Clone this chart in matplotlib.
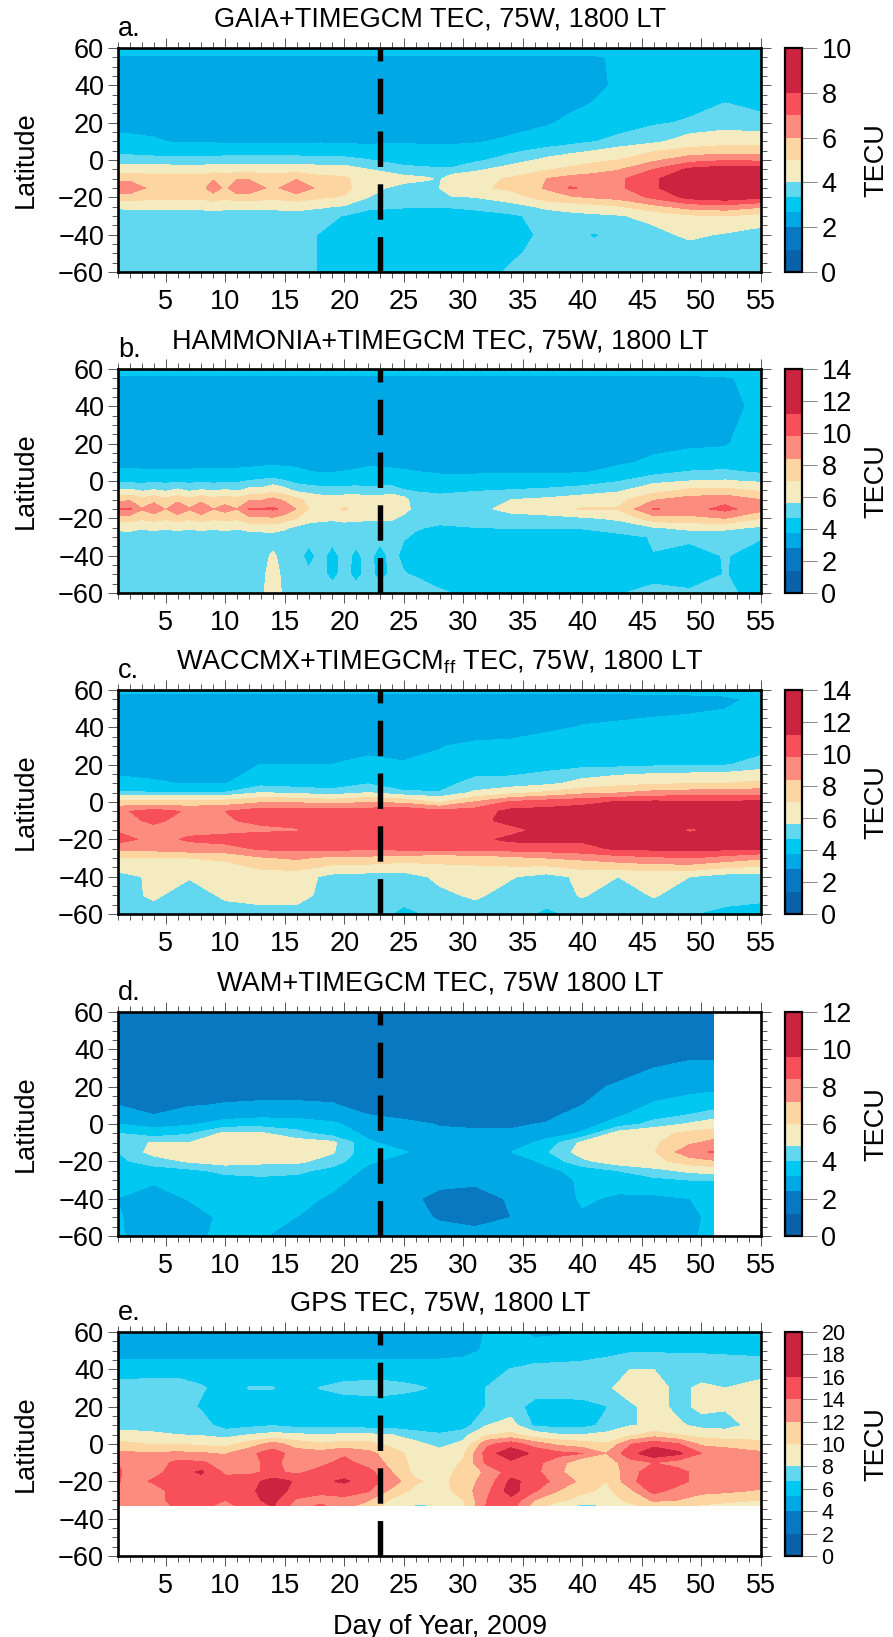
import numpy as np
import matplotlib
matplotlib.use("Agg")
import matplotlib.pyplot as plt
from matplotlib.ticker import MultipleLocator

plt.rcParams['font.family'] = ['Liberation Sans', 'DejaVu Sans']
plt.rcParams['mathtext.fontset'] = 'custom'
plt.rcParams['mathtext.rm'] = 'Liberation Sans'
plt.rcParams['lines.scale_dashes'] = False

W, H = 893, 1637

days_gaia = [1,2,4,6,8,9,10,11,12,14,16,18,20,22,25,27,28,29,31,34,37,39,41,43,46,49,52,55]
days_ham = list(range(1, 27)) + [28,31,34,37,40,43,46,49,52,55]
days_wac = [1,4,7,10,13,16,19,22,25,28,31,34,37,40,43,46,49,52,55]
days_wam = [1,4,7,10,13,16,19,22,25,28,31,34,37,40,43,46,49,51]
days_gps = [1,2,4,6,8,10,12,14,16,18,20,22,24,26,28,30,32,34,36,38,40,42,44,46,48,50,52,55]
lats = [60, 55, 40, 30, 20, 10, 5, 0, -5, -10, -15, -20, -25, -30, -40, -50, -60]
lats_wam = [60, 40, 30, 20, 10, 5, 0, -5, -10, -15, -20, -25, -30, -40, -50, -60]
lats_gps = [60, 50, 40, 30, 20, 10, 5, 0, -5, -10, -15, -20, -25, -30, -33]

gaia = [
 [3]*28,
 [2.6]*23+[2.75,3,3,3,3],
 [2.3]*22+[2.55,2.75,3,3,3,3],
 [2.3]*20+[2.4,2.55,2.7,2.9,3.05,3.15,3.35,3.2],
 [2.4]*20+[2.6,2.8,2.95,3.05,3.25,3.4,3.6,3.5],
 [2.85,2.85,2.75,2.6,2.6,2.6,2.55,2.55,2.55,2.55,2.55,2.6,2.55,2.55,2.6,2.55,2.55,2.55,2.6,2.8,3,3.1,3.3,3.5,3.8,4.4,4.6,4.5],
 [3.2,3.15,3.1,3,3,3.05,3.05,3.05,3.05,3.05,3.05,3,3,2.95,2.9,2.9,2.9,2.9,3,3.2,3.5,3.75,4,4.3,4.9,5.3,5.5,5.5],
 [3.55,3.55,3.5,3.5,3.5,3.5,3.55,3.55,3.55,3.55,3.55,3.5,3.5,3.35,3.1,3,3,3,3.2,3.6,4.2,4.5,4.8,5,5.8,6.6,6.9,6.8],
 [4.5,4.5,4.5,4.4,4.4,4.5,4.5,4.5,4.5,4.5,4.5,4.4,4.4,4,3.5,3.45,3.4,3.4,3.8,4.4,4.9,5.2,5.5,5.9,7,8.2,8.6,8.4],
 [5.7,5.7,5.4,5.4,5.4,5.9,5.5,5.9,5.9,5.5,5.9,5.3,5.2,4.4,4.3,4.1,3.9,4.5,4.7,5.1,6,6.4,6.6,6.8,7.8,9,9.2,9],
 [6.6,6.7,5.6,5.6,5.6,6.6,5.7,6.8,6.7,5.7,6.8,5.7,5.3,4.3,3.7,3.6,4,4.6,4.8,5.2,6.1,7.1,6.7,6.8,7.8,9,9.2,9],
 [5.5,5.5,5.2,5.2,5.2,5.5,5.2,5.5,5.5,5.2,5.5,5.1,4.9,4,3.5,3.4,3.5,3.9,4,4.5,5.5,5.8,6.1,6.3,7.2,8.3,8.6,8.2],
 [4.1,4.2,4.2,4.2,4.2,4.3,4.2,4.2,4.2,4.2,4.3,4.1,3.9,3.4,3.35,3.35,3.35,3.35,3.4,3.6,4.2,4.4,4.6,4.9,5.7,6.4,6.6,6.1],
 [3.6]*11+[3.5,3.3,3.2]+[3.2]*4+[3.2,3.25,3.5,3.7,3.8,3.9,4.3,4.8,5,4.6],
 [3.5]*11+[3.3,3.2,3.1]+[3.1]*4+[3.1,3.2,3.4,3.5,3.28,3.5,3.7,4.2,3.9,3.6],
 [3.5]*11+[3.3,3.2,3.1]+[3.1]*4+[3.1,3.25,3.5,3.4,3.5,3.5,3.5,3.5,3.5,3.5],
 [3.5]*11+[3.3,3.2,3.1]+[3.1]*4+[3.1,3.4,3.5,3.5,3.5,3.5,3.5,3.5,3.5,3.5],
]

hammonia = [
 [4.2]*36,
 [3.5]*33+[3.55,3.65,4],
 [3.3]*34+[3.4,4],
 [3.3]*33+[3.35,3.5,4.2],
 [3.35]*31+[3.4,3.5,3.6,3.65,4.3],
 [3.55]*26+[3.5,3.5,3.5,3.5,3.5,3.6,3.9,4.1,4.2,4.3],
 [3.85,3.85,3.8,3.8,3.8,3.8,3.8,3.85,3.85,3.85,3.85,3.9,4,4.1,4,3.9,3.75,3.7,3.7,3.75,3.8,3.95,3.95,3.85,3.8,3.75,3.65,3.65,3.65,3.65,3.65,4,4.3,4.7,4.8,4.5],
 [4.4,4.4,4.4,4.5,4.4,4.5,4.4,4.5,4.4,4.5,4.5,4.7,4.8,4.9,4.7,4.4,4.3,4.2,4.2,4.2,4.3,4.3,4.4,4.3,4.1,4,4,4,4.1,4.2,4.3,4.6,5.3,5.6,5.7,5.4],
 [5.7,5.8,5.4,5.7,5.4,5.8,5.4,5.7,5.5,5.7,5.5,5.9,5.9,6.6,6,5.3,5.1,5,5,5,5,4.9,4.9,5,4.7,4.6,4.5,4.6,4.7,4.8,5,5.4,6.4,7.3,7.4,6.8],
 [8,8.2,7.4,7.9,7.3,8,7.3,8,7.4,7.8,7.4,8.2,8.2,8.8,8.1,7.4,6.6,6.2,6.2,6.2,6.3,6.1,6.2,6.4,6,5,4.9,5.1,5.6,5.8,6.2,6.5,8.3,9,9.3,8.4],
 [9.9,10,8.5,9.4,8.3,9.6,8.5,9.5,8.4,8.9,8.4,9.9,9.9,10,9.5,8.3,7,6.8,6.6,7.2,6.6,6.5,6.6,6.8,6.2,5.1,5,5.2,6,6.3,7.1,7.1,9.9,9.3,10.2,8.9],
 [7.6,7.6,7.2,7.5,7.2,7.6,7.2,7.6,7.2,7.4,7.2,8,8,8.2,7.6,7,6.2,5.9,5.8,6,5.9,5.8,5.8,5.8,5.2,4.9,4.8,5,5.1,5.2,5.4,5.8,7.8,8,8.4,7],
 [5.9,6,5.7,5.9,5.7,5.9,5.7,5.9,5.7,5.9,5.7,6,6.1,6.2,5.8,5.3,5,5,5,5,5,5,5,4.9,4.8,4.7,4.6,4.65,4.7,4.7,4.7,4.9,5.5,5.9,5.9,5.4],
 [5]*15+[5,4.95,4.9,4.9,4.9,4.9,4.9,4.85,4.8,4.7,4.6,4.3,4.3,4.3,4.3,4.4,4.5,4.7,4.8,4.7,4.7],
 [5.1]*13+[5.8,5.1,5,4.4,4.9,4.4,4.9,4.5,4.9,4.4,4.85,4.5,4.4,4.2,4.2,4.2,4.2,4.2,4.3,4.65,4.4,4.7,4.4],
 [5.2]*13+[6.2,5.2,5,4.8,4.9,4.45,4.9,4.45,4.9,4.45,4.8,4.7,4.6,4.2,4.2,4.2,4.2,4.2,4.2,4.4,4.2,4.7,4.2],
 [5.2]*13+[6.6,5.2,5,5,5,5,5,5,5,5,5,5,5,4.8,4.4,4.3,4.3,4.3,4.6,4.9,4.8,4.8,4.4],
]

waccmx = [
 [4,4,4,4,4,4,4,4,4,4,4,4,4,4,4,4,4,4,4],
 [3.3,3.3,3.3,3.3,3.3,3.3,3.3,3.3,3.3,3.3,3.3,3.3,3.3,3.3,3.35,3.45,3.5,3.6,3.9],
 [3.3,3.3,3.3,3.3,3.3,3.3,3.3,3.3,3.3,3.3,3.3,3.3,3.6,3.78,3.85,3.9,3.95,4,4.1],
 [3.3,3.3,3.3,3.3,3.3,3.3,3.3,3.5,3.5,3.7,3.9,4,4.1,4.1,4.15,4.2,4.2,4.25,4.3],
 [3.5,3.5,3.5,3.5,3.75,3.75,3.75,3.95,3.8,3.9,4.2,4.3,4.3,4.4,4.4,4.5,4.55,4.6,5],
 [3.9,3.8,3.7,3.7,4.3,4.2,4.2,4.6,4.2,4.4,4.9,4.9,5.3,6,6.5,6.8,6.9,7,7.3],
 [4.8,4.7,4.7,4.7,5.6,5.3,5,5.6,4.8,4.7,5.8,6.6,7.2,8,8.3,8.8,9,9,9.2],
 [7.5,7.4,7.4,7.6,8.2,8.2,7.8,8.3,8,6.8,8.5,10,10.5,10.8,11.3,11.5,11.4,11.4,11.5],
 [9.5,10.4,9.6,9.8,10.6,10.6,10.6,10.6,11,10.3,10.5,11.6,11.7,11.9,11.9,12,12,12,12],
 [9.4,10,9.4,9.7,10,10.2,10.5,10.7,11,10.5,10.8,11.6,12,12,12,12.1,12,12,12],
 [9.6,9.5,9.4,9.4,9.6,9.7,10.4,10.5,10.5,10.5,10.5,10.8,11.6,11.4,11.8,12,11,11.6,12],
 [10.4,9.3,10,10.3,10.4,10.5,11,10.8,10.7,10.6,10.8,11.5,11.6,11.4,11.7,12,11.8,12,12],
 [8.8,8.9,9.2,9.3,10,10.2,10.2,10,10.2,10.2,10.2,10.4,10.5,10.8,11.4,11.5,11.6,11.5,11.3],
 [6.8,6.8,7,7.2,8.2,8.6,8,8,7.6,7.5,7.6,8,8.4,8.7,9.2,9.5,9.8,9.2,8.6],
 [5.2,5.8,5.7,6,6.2,6.2,5.2,5,5,5.9,6,5.7,5.1,5.9,5.6,5.9,5.6,5,5],
 [5.1,5.8,5,5.8,6.1,6.1,5,4.9,4.9,5.3,5.8,5.1,5,5.7,5,5.7,5,4.9,4.9],
 [5.1,5.1,5,5.1,5.1,5.1,5.1,5,4.5,4.8,5,5,4.5,4.9,5,4.9,4.7,4.5,4.3],
]

wam = [
 [2.2,2.2,2.2,2.2,2.2,2.2,2.2,2.2,2.2,2.2,2.2,2.2,2.2,2.2,2.2,2.2,2.2,2.2],
 [2,2,2,2,2,2,2,2,2,2,2,2,2,2,2,2,2.1,2.2],
 [2,2,2,2,2,2,2,2,2,2,2,2,2,2,2.1,2.4,2.6,2.55],
 [2.1,2.1,2.1,2.1,2.1,2.1,2.1,2.1,2.1,2.1,2.1,2.1,2.1,2.2,2.5,2.8,2.9,3],
 [2.4,2.2,2.35,2.45,2.5,2.5,2.45,2.2,2.1,2,2,2,2.1,2.4,2.8,3.3,3.6,3.7],
 [2.9,2.4,2.8,2.9,3,3,2.9,2.4,2.2,2.1,2.1,2.1,2.2,2.7,3.1,3.6,4,4.3],
 [3.2,3,3.1,3.5,3.6,3.5,3.3,2.9,2.6,2.35,2.3,2.3,2.45,2.9,3.5,4.3,4.9,5.3],
 [4,3.5,3.9,5,4.9,4.3,3.6,3.05,2.75,2.55,2.5,2.5,2.8,3.3,5.2,5.6,6.3,6.6],
 [4.2,4.9,4.8,5.4,5.3,5.2,5,3.3,2.9,2.7,2.6,2.7,3.5,5,5.4,5.8,7,7.5],
 [4,5.1,5,5.6,5.5,5.2,4.9,3.4,3.25,2.8,2.7,3.2,3.9,5.2,5.5,5.9,8,8.5],
 [3.8,4.4,4.9,5.2,5,5,4.4,3.3,2.95,2.7,2.6,2.7,3.4,4.6,5.3,5.6,6.6,7],
 [3.4,3.6,3.8,4.2,4.3,4.2,3.7,3.05,2.8,2.6,2.5,2.55,3,3.5,4,4.5,5,5.2],
 [3.3,3.3,3.5,3.7,3.8,3.7,3.4,2.95,2.7,2.6,2.5,2.55,2.9,3.3,3.5,3.8,4,4],
 [3.2,2.9,3.25,3.4,3.4,3.4,3.1,2.7,2.6,2.2,2.2,2.45,2.7,3.3,3.1,3.05,3.2,3.3],
 [3.25,2.9,2.9,3.35,3.3,3.2,3,2.7,2.6,2.35,2.3,2.4,2.7,3.1,2.9,2.9,3.1,3.3],
 [3.25,3,3.1,3.3,3.25,3,3,2.7,2.6,2.6,2.5,2.6,2.8,3,2.9,2.9,3.15,3.3],
]

gps = [
 [4.7]*15+[4.9,5.4,5.6,5.1,5.2,5.7,5.8,5.8,5.8,5.8,5.8,5.8,5.8],
 [4.8]*15+[5,5.5,5.8,5.9,5.95,6.1,6.3,6.5,6.5,6.55,6.55,6.5,6.4],
 [6]*16+[6.2,6.7,7,7.05,7.1,7.3,8,8,7.3,7.2,7.2,7.2],
 [7.2,7.2,7.4,7.4,6.8,6.1,6.7,6.7,6.2,6.7,7,7.1,7.05,6.8,6.5,6.2,6.7,7.2,7.3,7.4,7.5,7.7,8.8,8.7,7.6,8.3,8,8.7],
 [7.3,7.3,7.3,7.3,6.5,6]+[6]*10+[6.7,7.2,6.2,6.1,6.1,6.6,7.7,8.6,7.6,8.3,8.2,8.9],
 [7.5,7.5,7.5,7.4,7.2,6.1,6.3,6.6,6.2,6.3,6.3,6,6,5.9,5.8,6,8,8.6,6.4,6.2,6.2,7,7.9,8.2,8.3,7.5,7.3,8.8],
 [8.5,8.4,8.2,8,7.8,7.4,8,8.4,8.2,8,8.2,8.2,8,7.2,6.8,7.4,9.8,10.5,8.8,8.1,8,8.4,9.5,11,10,9.2,9,9.4],
 [10.6,10.4,9.8,10,9.5,9.2,10.8,12.8,11,10.2,10.8,10.6,9.4,8.4,7.5,8.4,13.5,15,13,11.5,10.8,10.2,13.8,15.2,14.2,11.5,11,10.4],
 [12.3,12.3,12.2,12.4,12.2,11.8,13.5,15,13,12.8,13.5,12.6,11,9,8.6,9.6,15,17.5,15.5,14.5,14,12,15.2,17.5,16.5,14,13.5,12.4],
 [14,13,13,14.5,14.3,13,13.5,14.5,13,13.3,14.8,13,11.5,9.2,9,10.2,14.5,15.5,14.5,13,10,10.8,13.2,14,13,12.7,12.6,12.4],
 [14.5,13,13.3,15,16.3,13.6,13.5,14.5,13.5,14.8,15.2,14.8,12,9.4,9.1,10.6,12.4,15,14.5,12.4,10.5,10,13.3,15,14.8,13,12.9,12.6],
 [14.2,13,14.3,15,15.2,14.8,15.2,16.8,15.8,15.6,16.3,15,13,10.3,9.3,11,12.8,16.5,15.2,13.2,11.5,10,13.2,16,14.8,13,14,12.8],
 [13,12.8,13,15,15,15,15.4,17.5,15,14.6,14.8,14.2,11.5,9.4,9,11,13.5,17,14.2,12,10.5,9.5,11.5,14.8,13.2,12.6,12.4,11.8],
 [13,12.6,13,15,14.8,14,15.5,16.5,13.8,13.2,13.5,12.2,9.6,8.8,8.4,10,14,15.4,12,10.5,9.2,9,10.5,12.3,12,11,10.6,10],
 [12.6,12.4,12.6,14.5,14.4,13.6,14.5,16.2,13,14.3,12.8,11,9.2,7.8,8,9.6,14.3,15,11,9,7.6,8,9.5,11,10.5,9.8,9.4,9],
]

titles = ["GAIA+TIMEGCM TEC, 75W, 1800 LT",
          "HAMMONIA+TIMEGCM TEC, 75W, 1800 LT",
          r"WACCMX+TIMEGCM$_{\mathrm{ff}}$ TEC, 75W, 1800 LT",
          "WAM+TIMEGCM TEC, 75W 1800 LT",
          "GPS TEC, 75W, 1800 LT"]
letters = ["a.", "b.", "c.", "d.", "e."]
cbar_max = [10, 14, 14, 12, 20]
cbar_step = [2, 2, 2, 2, 2]
band_edges = [0, .1, .2, .267, .333, .4, .5, .6, .7, .8, 1.0]
band_colors = ['#0a62a8', '#0878c0', '#00a9e6', '#00c8f0', '#62d8f0',
               '#f5ebc0', '#fdd5a0', '#fc8d7e', '#f8505a', '#cb2340']
storm_day = 23

panel_data = [(days_gaia, lats, gaia), (days_ham, lats, hammonia), (days_wac, lats, waccmx),
              (days_wam, lats_wam, wam), (days_gps, lats_gps, gps)]
tops = [48, 369, 690, 1012, 1332]
AX_H = 224
L, R = 118, 761
CL, CR = 785, 802
FS = 19.5
CBAR_FS = [19.5, 19.5, 19.5, 19.5, 15.5]
TICK = '#555555'


def rect(x0, x1, y0, y1):
    return [x0 / W, 1 - y1 / H, (x1 - x0) / W, (y1 - y0) / H]


fig = plt.figure(figsize=(W / 100, H / 100), dpi=100, facecolor='white')

for i, (xs, ys, z) in enumerate(panel_data):
    top = tops[i]
    ax = fig.add_axes(rect(L, R, top, top + AX_H))
    levels = [e * cbar_max[i] for e in band_edges]
    cs = ax.contourf(xs, ys, np.array(z, dtype=float), levels=levels, colors=band_colors)
    ax.plot([storm_day, storm_day], [-60, 60], color='black', lw=3.9,
            dashes=(25.5, 12.5), dash_capstyle='butt', zorder=5)
    ax.set_xlim(1, 55)
    ax.set_ylim(-60, 60)
    ax.xaxis.set_major_locator(MultipleLocator(5))
    ax.xaxis.set_minor_locator(MultipleLocator(1))
    ax.yaxis.set_major_locator(MultipleLocator(20))
    ax.yaxis.set_minor_locator(MultipleLocator(5))
    ax.tick_params(which='major', direction='out', length=7, width=0.7, color=TICK,
                   top=True, right=True, labelsize=FS, pad=3)
    ax.tick_params(axis='x', which='major', pad=5)
    ax.tick_params(which='minor', direction='out', length=4, width=0.7, color=TICK,
                   top=True, right=True)
    for s in ax.spines.values():
        s.set_linewidth(1.9)
        s.set_zorder(6)
    fig.text(26 / W, 1 - (top + AX_H / 2) / H, "Latitude", rotation=90, ha='center',
             va='center', fontsize=FS)
    fig.text(440 / W, 1 - (top - 28) / H, titles[i], ha='center', va='center', fontsize=FS)
    fig.text(118 / W, 1 - (top - 19) / H, letters[i], ha='left', va='center', fontsize=FS)

    cax = fig.add_axes(rect(CL, CR, top, top + AX_H))
    cb = fig.colorbar(cs, cax=cax, spacing='proportional',
                      ticks=np.arange(0, cbar_max[i] + 1, cbar_step[i]))
    cb.ax.tick_params(direction='out', length=11, width=0.7, color='#888888',
                      labelsize=CBAR_FS[i], pad=3)
    cb.outline.set_linewidth(1.6)
    cb.ax.minorticks_off()
    fig.text(876 / W, 1 - (top + AX_H / 2) / H, "TECU", rotation=90, ha='center',
             va='center', fontsize=FS)

fig.text(440 / W, 1 - 1627 / H, "Day of Year, 2009", ha='center', va='center', fontsize=FS)
fig.savefig("out.png", dpi=100, facecolor='white')
